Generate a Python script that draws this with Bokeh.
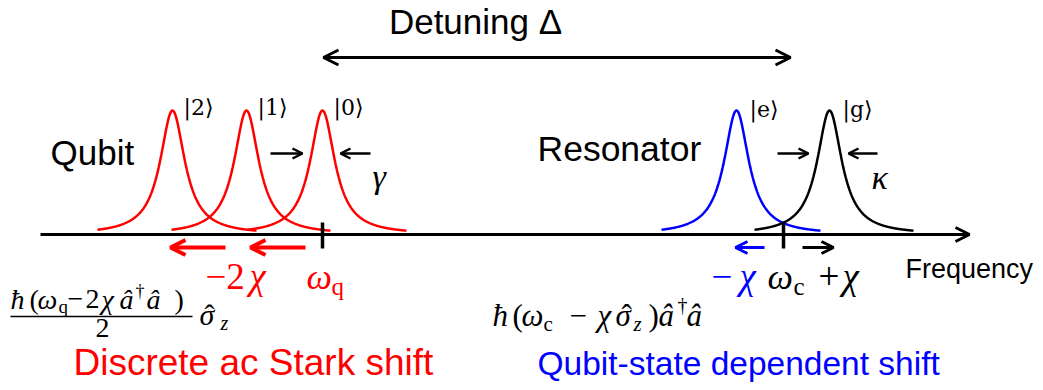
import numpy as np
from bokeh.plotting import figure
from bokeh.models import Range1d, Arrow, OpenHead
from bokeh.core.properties import value
from bokeh.embed import file_html
from bokeh.resources import INLINE

# ---------------- data (diagram frequency units = page pixels) ----------------
qubit_states = ["|2⟩", "|1⟩", "|0⟩"]
qubit_freqs = [172, 246, 322]          # peak positions, shifted by -2chi per photon
qubit_color = "#FF0000"
resonator_states = ["|e⟩", "|g⟩"]
resonator_freqs = [736, 829]           # omega_c - chi, omega_c + chi
resonator_colors = ["#0000FF", "#000000"]
omega_q = 322
omega_c = 783
detuning = [323, 790]
peak_height = 124
gamma_hwhm = 15
kappa_hwhm = 15
freq_axis = [40, 969]

W, H = 1043, 390
BASE = 234

p = figure(width=W, height=H, x_range=Range1d(0, W), y_range=Range1d(H, 0),
           x_axis_type=None, y_axis_type=None, toolbar_location=None,
           output_backend="svg", min_border=0)
p.grid.visible = False
p.outline_line_color = None
p.background_fill_color = "white"
p.border_fill_color = "white"

SANS = "Liberation Sans"
SERIF = "Liberation Serif"


def txt(x, y, s, size, color="black", font=SANS, style="normal", align="left"):
    # y is the intended alphabetic baseline; compensate the renderer's offset
    yy = y - (6 + 0.18 * size)
    p.text(x=[x], y=[yy], text=[s], text_font=value(font), text_font_size=value(f"{size}px"),
           text_font_style=style, text_color=color, text_align=align, text_baseline="alphabetic")


def arrow(x0, y0, x1, y1, color="black", lw=2.5, size=10, both=False):
    head = dict(size=size, line_width=lw, line_color=color)
    p.add_layout(Arrow(x_start=x0, y_start=y0, x_end=x1, y_end=y1, line_color=color,
                       line_width=lw, end=OpenHead(**head),
                       start=OpenHead(**head) if both else None))


def lorentz(center, hw, color):
    x = np.linspace(center - 75, center + 84, 300)
    y = BASE - peak_height / (1 + ((x - center) / hw) ** 2)
    p.line(x, y, line_color=color, line_width=2.5)


# frequency axis
arrow(freq_axis[0], BASE, freq_axis[1], BASE, lw=3, size=14)

# curves
for f in qubit_freqs:
    lorentz(f, gamma_hwhm, qubit_color)
for f, c in zip(resonator_freqs, resonator_colors):
    lorentz(f, kappa_hwhm, c)

# ticks
p.segment(x0=[omega_q, omega_c], y0=[222, 222], x1=[omega_q, omega_c], y1=[248, 248],
          line_color="black", line_width=3.5)

# detuning arrow
arrow(detuning[0], 57, detuning[1], 57, lw=3, size=15, both=True)
txt(475, 33, "Detuning Δ", 35, align="center")

# state labels
for s, f in zip(qubit_states, qubit_freqs):
    txt(f + 11, 117, s, 22, font="DejaVu Serif")
for s, f in zip(resonator_states, resonator_freqs):
    txt(f + 13, 119, s, 22, font="DejaVu Serif")

txt(50, 164, "Qubit", 35)
txt(537, 161, "Resonator", 35.5)
txt(905, 279, "Frequency", 27)

# linewidth arrows
arrow(270, 153, 302, 153, lw=2.5, size=10)
arrow(370, 153, 340, 153, lw=2.5, size=10)
txt(372, 188, "γ", 34, font=SERIF, style="italic")
arrow(777, 153, 808, 153, lw=2.5, size=10)
arrow(877, 153, 848, 153, lw=2.5, size=10)
txt(871, 189, "κ", 34, font=SERIF, style="italic")

# chi shift arrows (qubit)
arrow(qubit_freqs[2] - 17, 247, qubit_freqs[1] + 4, 247, color=qubit_color, lw=4, size=15)
arrow(qubit_freqs[1] - 21, 247, qubit_freqs[0] - 2, 247, color=qubit_color, lw=4, size=15)
# chi shift arrows (resonator)
arrow(omega_c - 19, 247, resonator_freqs[0] - 1, 247, color="#0000FF", lw=3, size=12)
arrow(omega_c + 19, 247, resonator_freqs[1] + 4, 247, color="black", lw=3, size=12)

# math labels under axis
txt(205, 289, "−2", 37, color=qubit_color, font=SERIF)
txt(249, 289, "χ", 37, color=qubit_color, font=SERIF, style="italic")
txt(306, 289, "ω", 36, color=qubit_color, font=SERIF, style="italic")
txt(331, 296, "q", 25, color=qubit_color, font=SERIF)

txt(711, 289, "−", 37, color="#0000FF", font=SERIF)
txt(739, 289, "χ", 37, color="#0000FF", font=SERIF, style="italic")
txt(767, 289, "ω", 36, font=SERIF, style="italic")
txt(793, 296, "c", 25, font=SERIF)
txt(818, 289, "+", 37, font=SERIF)
txt(842, 289, "χ", 37, font=SERIF, style="italic")

# left formula (fraction)
FS = 28
num = [("ħ", 10, "italic"), ("(", 29, "normal"), ("ω", 37, "italic"), ("−", 67, "normal"),
       ("2", 85, "normal"), ("χ", 101, "italic"), ("â", 119, "italic"), ("â", 146, "italic"),
       (")", 174, "normal")]
for s, x, st in num:
    txt(x, 310, s, FS, font=SERIF, style=st)
txt(58, 315, "q", 19, font=SERIF)
txt(135, 300, "†", 18, font=SERIF)
p.segment(x0=[10], y0=[316], x1=[192], y1=[316], line_color="black", line_width=1.5)
txt(102, 339, "2", FS, font=SERIF, align="center")
txt(199, 325, "σ", 30, font=SERIF, style="italic")
txt(204, 325, "ˆ", 30, font=SERIF)
txt(220, 332, "z", 20, font=SERIF, style="italic")

# right formula
FS2 = 31
rf = [("ħ", 492, "italic"), ("(", 512, "normal"), ("ω", 521, "italic"), ("−", 569, "normal"),
      ("χ", 597, "italic"), ("σ", 615, "italic"), (")", 648, "normal"), ("â", 658, "italic"),
      ("â", 686, "italic")]
for s, x, st in rf:
    txt(x, 327, s, FS2, font=SERIF, style=st)
txt(621, 327, "ˆ", FS2, font=SERIF)
txt(543, 333, "c", 21, font=SERIF)
txt(633, 333, "z", 21, font=SERIF, style="italic")
txt(677, 314, "†", 20, font=SERIF)

# captions
txt(73, 375, "Discrete ac Stark shift", 37, color=qubit_color)
txt(537, 375, "Qubit-state dependent shift", 33.5, color="#0000FF")

open("out.html", "w").write(file_html(p, INLINE))
